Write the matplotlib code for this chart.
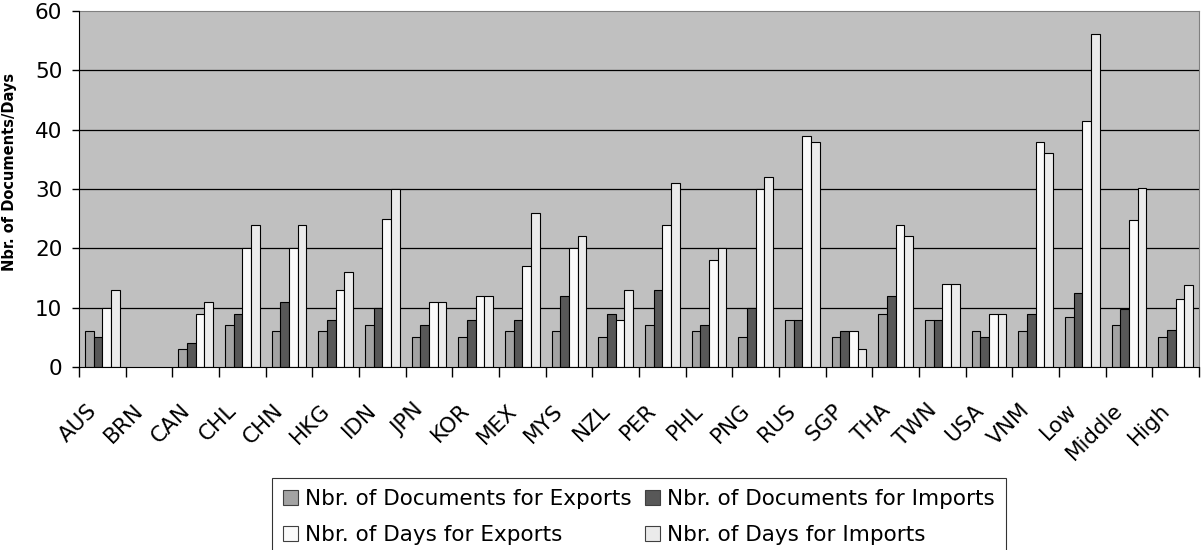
import numpy as np
import matplotlib
matplotlib.use("Agg")
import matplotlib.pyplot as plt
import matplotlib.transforms as mtransforms
from matplotlib.patches import Patch

# data
categories = ["AUS", "BRN", "CAN", "CHL", "CHN", "HKG", "IDN", "JPN", "KOR", "MEX",
              "MYS", "NZL", "PER", "PHL", "PNG", "RUS", "SGP", "THA", "TWN", "USA",
              "VNM", "Low", "Middle", "High"]
docs_export = [6, np.nan, 3, 7, 6, 6, 7, 5, 5, 6, 6, 5, 7, 6, 5, 8, 5, 9, 8, 6, 6, 8.4, 7.1, 5.0]
docs_import = [5, np.nan, 4, 9, 11, 8, 10, 7, 8, 8, 12, 9, 13, 7, 10, 8, 6, 12, 8, 5, 9, 12.5, 9.8, 6.2]
days_export = [10, np.nan, 9, 20, 20, 13, 25, 11, 12, 17, 20, 8, 24, 18, 30, 39, 6, 24, 14, 9, 38, 41.4, 24.7, 11.5]
days_import = [13, np.nan, 11, 24, 24, 16, 30, 11, 12, 26, 22, 13, 31, 20, 32, 38, 3, 22, 14, 9, 36, 56.1, 30.1, 13.8]

series = [
    ("Nbr. of Documents for Exports", docs_export, "#a3a3a3"),
    ("Nbr. of Documents for Imports", docs_import, "#585858"),
    ("Nbr. of Days for Exports", days_export, "#fafafa"),
    ("Nbr. of Days for Imports", days_import, "#ebebeb"),
]

plt.rcParams['font.family'] = ['DejaVu Sans']
fs = 15.5

fig = plt.figure(figsize=(12.01, 5.5), dpi=100)
ax = fig.add_axes([79 / 1201, 1 - 367 / 550, 1120 / 1201, 356 / 550])
ax.set_facecolor("#c0c0c0")

x = np.arange(len(categories))
w = 0.187
for k, (name, vals, col) in enumerate(series):
    ax.bar(x + (k - 1.5) * w, vals, width=w, color=col, edgecolor="black",
           linewidth=0.8, zorder=3)

ax.set_xlim(-0.5, len(categories) - 0.5)
ax.set_ylim(0, 60)
ax.set_yticks(range(0, 61, 10))
for yv in range(10, 60, 10):
    ax.axhline(yv, color="black", linewidth=0.9, zorder=1)

ax.set_xticks(x)
ax.set_xticklabels(categories, rotation=45, ha="right", va="center",
                   rotation_mode="anchor", fontsize=fs)
ax.tick_params(axis="x", which="major", length=0, pad=29)
shift = mtransforms.ScaledTranslation(-9 / 100, 0, fig.dpi_scale_trans)
for lab in ax.get_xticklabels():
    lab.set_transform(lab.get_transform() + shift)
ax.set_xticks(np.arange(-0.5, len(categories), 1), minor=True)
ax.tick_params(axis="x", which="minor", length=7, width=1, color="black", direction="out")
ax.tick_params(axis="y", length=5, width=1, pad=7, labelsize=fs)

for s in ["top", "right"]:
    ax.spines[s].set_color("#808080")
for s in ["left", "bottom"]:
    ax.spines[s].set_color("black")
    ax.spines[s].set_zorder(4)

fig.text(9.5 / 1201, 1 - 172 / 550, "Nbr. of Documents/Days", rotation=90,
         ha="center", va="center", fontsize=10.5, fontweight="bold")

handles = [Patch(facecolor=c, edgecolor="#404040", linewidth=0.8, label=n) for n, _, c in series]
order = [0, 2, 1, 3]
leg = fig.legend([handles[i] for i in order], [series[i][0] for i in order],
                 ncol=2, loc="upper center",
                 bbox_to_anchor=((79 + 1199) / 2 / 1201, 1 - 478 / 550),
                 fontsize=fs, frameon=True, fancybox=False, borderaxespad=0,
                 handlelength=0.7, handleheight=0.7, handletextpad=0.35,
                 columnspacing=0.6, labelspacing=0.75, borderpad=0.5)
leg.get_frame().set_edgecolor("black")
leg.get_frame().set_linewidth(0.8)

fig.savefig("out.png", dpi=100)
